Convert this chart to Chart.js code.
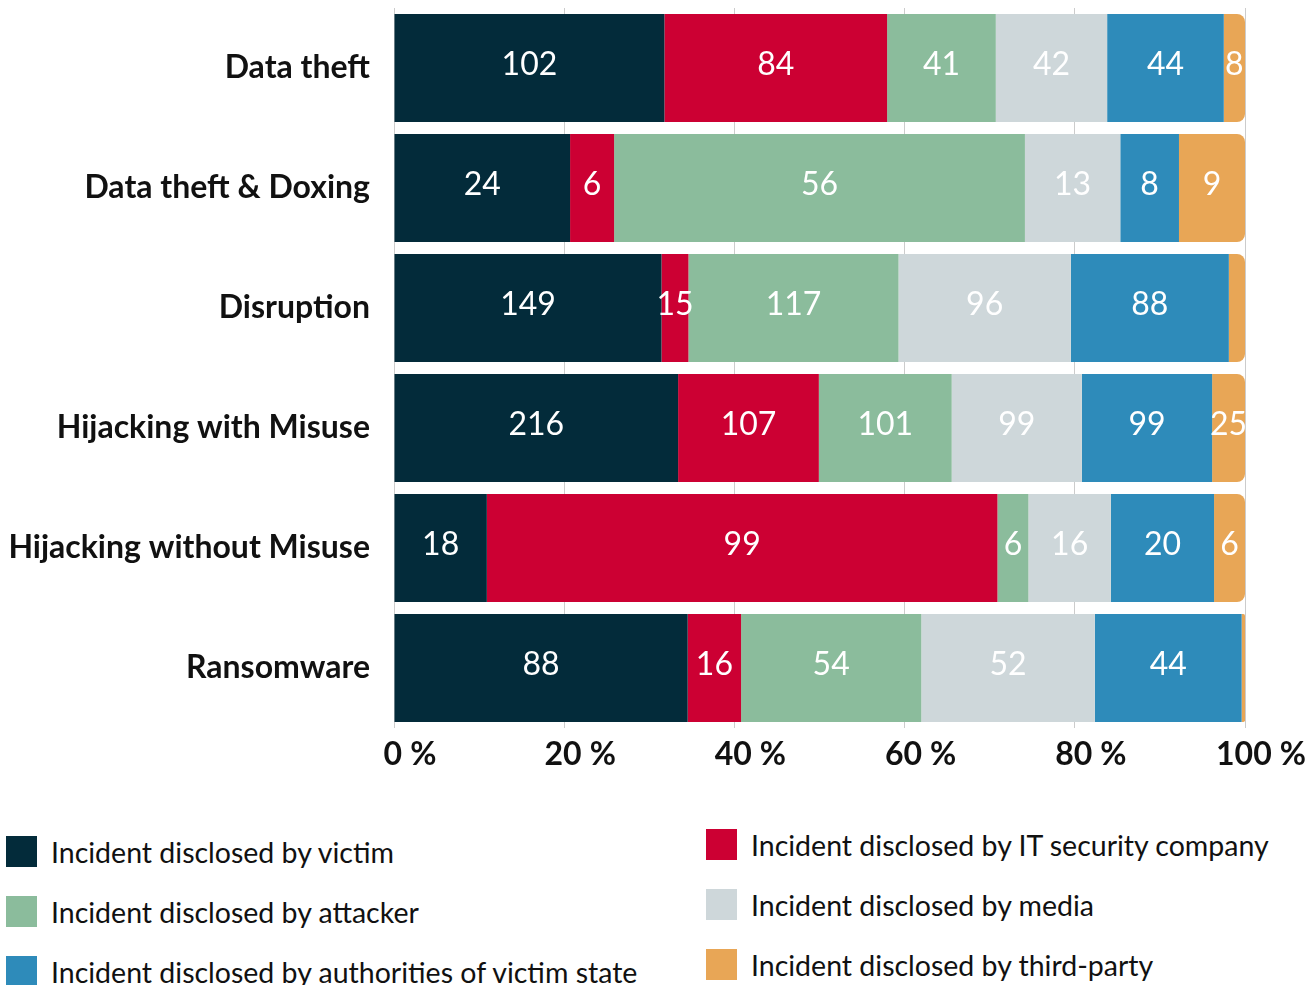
<!DOCTYPE html>
<html>
<head>
<meta charset="utf-8">
<script src="https://cdn.jsdelivr.net/npm/chart.js@4/dist/chart.umd.min.js"></script>
<style>
	html, body { margin: 0; padding: 0; background: #fff; }
	body { width: 1308px; height: 985px; position: relative; overflow: hidden; font-family: Lato, sans-serif; }
	.chart-box { position: absolute; left: 0; top: 0; width: 1308px; height: 790px; }
	.legend-item { position: absolute; display: flex; align-items: center; font-size: 28.5px; color: #111; white-space: nowrap; }
	.legend-item .swatch { width: 31px; height: 31px; margin-right: 14px; flex: none; }
</style>
</head>
<body>
<div class="chart-box"><canvas id="barChart"></canvas></div>
<div id="legend"></div>
<script>
(function () {
	'use strict';

	var categories = [
		'Data theft',
		'Data theft & Doxing',
		'Disruption',
		'Hijacking with Misuse',
		'Hijacking without Misuse',
		'Ransomware'
	];

	// raw incident counts per category
	var byVictim      = [102, 24, 149, 216, 18, 88];
	var byItSecurity  = [84, 6, 15, 107, 99, 16];
	var byAttacker    = [41, 56, 117, 101, 6, 54];
	var byMedia       = [42, 13, 96, 99, 16, 52];
	var byAuthorities = [44, 8, 88, 99, 20, 44];
	var byThirdParty  = [8, 9, 9, 25, 6, 1];

	var xTicks = [0, 20, 40, 60, 80, 100];

	var series = [
		{ label: 'Incident disclosed by victim', values: byVictim, color: '#032b3a' },
		{ label: 'Incident disclosed by IT security company', values: byItSecurity, color: '#cc0033' },
		{ label: 'Incident disclosed by attacker', values: byAttacker, color: '#8bbc9c' },
		{ label: 'Incident disclosed by media', values: byMedia, color: '#ced7da' },
		{ label: 'Incident disclosed by authorities of victim state', values: byAuthorities, color: '#2e8bba' },
		{ label: 'Incident disclosed by third-party', values: byThirdParty, color: '#e8a656' }
	];

	var totals = categories.map(function (c, i) {
		return series.reduce(function (sum, s) { return sum + s.values[i]; }, 0);
	});

	var datasets = series.map(function (s, k) {
		return {
			label: s.label,
			counts: s.values,
			data: s.values.map(function (v, i) { return v / totals[i] * 100; }),
			backgroundColor: s.color,
			borderWidth: 0,
			borderSkipped: false,
			borderRadius: k === series.length - 1 ? { topLeft: 0, bottomLeft: 0, topRight: 8, bottomRight: 8 } : 0,
			barPercentage: 0.9,
			categoryPercentage: 1
		};
	});

	//Value labels inside the segments
	var segmentLabels = {
		id: 'segmentLabels',
		afterDatasetsDraw: function (chart) {
			var ctx = chart.ctx;
			ctx.save();
			ctx.font = '32px Lato';
			ctx.fillStyle = '#fff';
			ctx.textAlign = 'center';
			ctx.textBaseline = 'middle';
			chart.data.datasets.forEach(function (ds, k) {
				var meta = chart.getDatasetMeta(k);
				meta.data.forEach(function (bar, i) {
					var p = bar.getProps(['x', 'y', 'base'], true);
					if (Math.abs(p.x - p.base) < 18) {
						return;
					}
					ctx.fillText(String(ds.counts[i]), (p.x + p.base) / 2, p.y - 3);
				});
			});
			ctx.restore();
		}
	};

	var barChart = document.getElementById('barChart');

	barChart = new Chart(barChart, {
		type: 'bar',
		data: {
			labels: categories,
			datasets: datasets
		},
		plugins: [segmentLabels],
		options: {
			indexAxis: 'y',
			responsive: true,
			maintainAspectRatio: false,
			animation: false,
			layout: { padding: { top: 8, right: 63, left: 0, bottom: 0 } },
			plugins: {
				legend: { display: false },
				tooltip: { enabled: false }
			},
			scales: {
				x: {
					stacked: true,
					min: 0,
					max: 100,
					afterBuildTicks: function (scale) {
						scale.ticks = xTicks.map(function (v) { return { value: v }; });
					},
					afterFit: function (scale) {
						scale.height = 62;
						scale.paddingLeft = 0;
						scale.paddingRight = 0;
					},
					grid: { color: '#cccccc', lineWidth: 1, drawTicks: false },
					border: { display: false },
					ticks: {
						padding: 7,
						labelOffset: 16,
						color: '#111',
						font: { family: 'Lato', size: 32, weight: 'bold' },
						callback: function (v) { return v + '\u2005%'; }
					}
				},
				y: {
					stacked: true,
					afterFit: function (scale) {
						scale.width = 394;
						scale.paddingTop = 0;
						scale.paddingBottom = 0;
					},
					grid: { display: false, drawTicks: false },
					border: { display: false },
					ticks: {
						padding: 24,
						color: '#111',
						font: { family: 'Lato', size: 32, weight: 'bold' }
					}
				}
			}
		}
	});

	//Legend in two columns
	var legendPos = [
		{ left: 6, top: 836 },
		{ left: 706, top: 829 },
		{ left: 6, top: 896 },
		{ left: 706, top: 889 },
		{ left: 6, top: 956 },
		{ left: 706, top: 949 }
	];
	var legend = document.getElementById('legend');
	series.forEach(function (s, k) {
		var item = document.createElement('div');
		item.className = 'legend-item';
		item.style.left = legendPos[k].left + 'px';
		item.style.top = legendPos[k].top + 'px';
		item.style.height = '31px';
		var sw = document.createElement('span');
		sw.className = 'swatch';
		sw.style.background = s.color;
		var txt = document.createElement('span');
		txt.textContent = s.label;
		item.appendChild(sw);
		item.appendChild(txt);
		legend.appendChild(item);
	});
})();
</script>
</body>
</html>
